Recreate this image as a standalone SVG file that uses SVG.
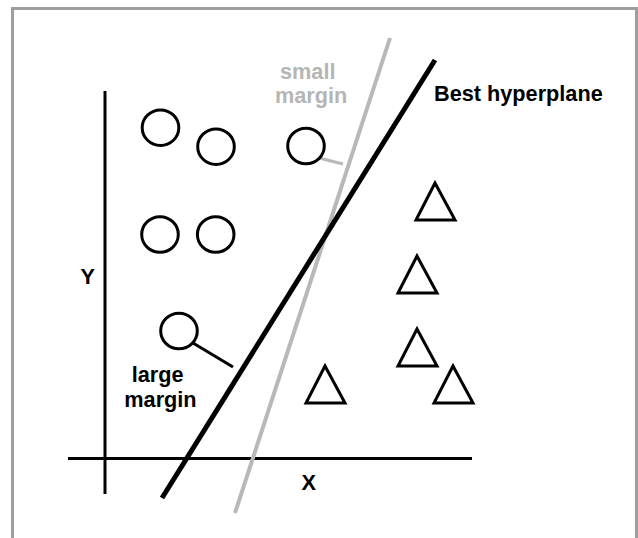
<svg xmlns="http://www.w3.org/2000/svg" width="638" height="538" viewBox="0 0 638 538">
<style>
.lbl{font-family:"Liberation Sans",Arial,Helvetica,sans-serif;font-weight:bold;font-size:21.7px;fill:#000}
.gl{fill:#b5b5b5}
.pt{fill:none;stroke:#000;stroke-width:3}
.axis{stroke:#000;stroke-width:3;fill:none}
</style>
<rect width="638" height="538" fill="#fff"/>
<path d="M12.5 540 V8.5 H636.5 V540" fill="none" stroke="#9e9e9e" stroke-width="3"/>
<g id="axes">
<line class="axis" x1="105" y1="91" x2="105" y2="494"/>
<line class="axis" x1="68" y1="458.5" x2="472" y2="458.5"/>
<text class="lbl" x="80.5" y="284">Y</text>
<text class="lbl" x="301.5" y="489.5">X</text>
</g>
<g id="connectors">
<line id="small-hyperplane" x1="390" y1="38" x2="235" y2="513" stroke="#b8b8b8" stroke-width="4"/>
<line id="best-hyperplane" x1="435" y1="60" x2="162" y2="498" stroke="#000" stroke-width="5"/>
<line id="small-margin-line" x1="319" y1="158" x2="343" y2="164" stroke="#b8b8b8" stroke-width="3"/>
<line id="large-margin-line" x1="193" y1="343" x2="233" y2="367" stroke="#000" stroke-width="3"/>
</g>
<g id="circle1"><ellipse class="pt" cx="160.5" cy="127.7" rx="18.3" ry="17.8"/></g>
<g id="circle2"><ellipse class="pt" cx="216" cy="146.7" rx="18.3" ry="17.8"/></g>
<g id="circle3"><ellipse class="pt" cx="160" cy="234.5" rx="18.3" ry="17.8"/></g>
<g id="circle4"><ellipse class="pt" cx="215.7" cy="234.5" rx="18.3" ry="17.8"/></g>
<g id="circle5"><ellipse class="pt" cx="306" cy="146" rx="18.3" ry="17.8"/></g>
<g id="circle6"><ellipse class="pt" cx="179" cy="331" rx="18.3" ry="17.8"/></g>
<g id="tri1"><polygon class="pt" points="435,183 416,220 455,220"/></g>
<g id="tri2"><polygon class="pt" points="417,256 398,293 437,293"/></g>
<g id="tri3"><polygon class="pt" points="417,329 398,366 437,366"/></g>
<g id="tri4"><polygon class="pt" points="453,366 434,403 473,403"/></g>
<g id="tri5"><polygon class="pt" points="325,366 306,403 345,403"/></g>
<g id="label-small">
<text class="lbl gl" x="280" y="78.5">small</text>
<text class="lbl gl" x="275" y="103.3">margin</text>
</g>
<g id="label-large">
<text class="lbl" x="131.7" y="381.7">large</text>
<text class="lbl" x="124.3" y="406.7">margin</text>
</g>
<g id="label-best">
<text class="lbl" x="434" y="100.7">Best hyperplane</text>
</g>
</svg>
